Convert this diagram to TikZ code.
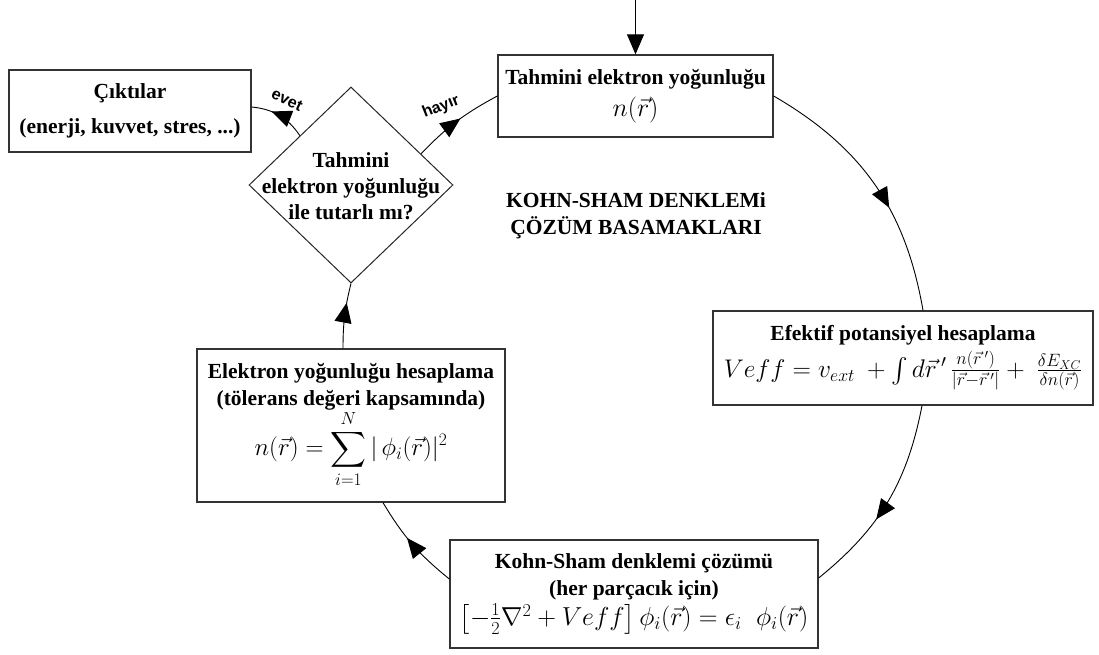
\documentclass[tikz,border=0pt]{standalone}
\usepackage{fix-cm}
\usepackage{amsmath}
\usepackage{fontspec}
\setmainfont{Liberation Serif}
\setsansfont{Liberation Sans}
\usetikzlibrary{shapes.geometric,arrows.meta,decorations.markings}
\tikzset{
  tri/.tip={Triangle[length=20pt,width=17pt]},
  box/.style={draw=black!80, line width=1.3pt, rectangle, inner sep=0pt, align=center,
    font=\fontsize{21.5}{27}\selectfont\bfseries},
  link/.style={draw=black, line width=0.9pt},
  midarrow/.style={postaction={decorate},
    decoration={markings, mark=at position #1 with {\arrow{tri}}}},
  lbl/.style={font=\sffamily\bfseries\fontsize{16}{16}\selectfont},
  plain/.style={align=center, font=\fontsize{21.5}{27}\selectfont\bfseries},
}
\begin{document}
\begin{tikzpicture}[x=1pt,y=-1pt]
\useasboundingbox (0,0) rectangle (1099,655);

\node[box, minimum width=275pt, minimum height=82pt] (tbox) at (635.5,96)
  {Tahmini elektron yoğunluğu\\[5pt] \fontsize{26}{27}\selectfont$n(\vec{r})$};
\node[box, minimum width=242pt, minimum height=82pt] (out) at (130,111)
  {Çıktılar\\[8pt](enerji, kuvvet, stres, ...)};
\node[diamond, draw=black!85, line width=1pt, minimum width=204pt, minimum height=196pt,
  inner sep=0pt] (dia) at (351,185) {};
\node[align=center, font=\fontsize{21.5}{26}\selectfont\bfseries] (diatxt) at (351,186)
  {Tahmini\\elektron yoğunluğu\\ile tutarlı mı?};
\node[box, minimum width=380pt, minimum height=94pt] (rbox) at (903,358)
  {Efektif potansiyel hesaplama\\[5pt]
   \fontsize{25.5}{27}\selectfont$Veff = v_{ext}\ +\int d\vec{r}\,'\,\frac{n(\vec{r}\,')}{|\vec{r}-\vec{r}\,'|}+\ \frac{\delta E_{XC}}{\delta n(\vec{r})}$};
\node[box, minimum width=308pt, minimum height=153pt] (lbox) at (351,425.5)
  {Elektron yoğunluğu hesaplama\\(tölerans değeri kapsamında)\\[-1pt]
   \fontsize{25}{27}\selectfont$\displaystyle n(\vec{r}) = \sum_{i=1}^{N} |\,\phi_i(\vec{r})|^2$};
\node[box, minimum width=368pt, minimum height=108pt] (bbox) at (634,594)
  {Kohn-Sham denklemi çözümü\\(her parçacık için)\\[3pt]
   \fontsize{26}{27}\selectfont$\left[-\frac{1}{2}\nabla^2+Veff\right]\phi_i(\vec{r}) = \epsilon_i\;\;\phi_i(\vec{r})$};
\node[plain] (title) at (636,216) {KOHN-SHAM DENKLEMi\\ÇÖZÜM BASAMAKLARI};

\coordinate (entry) at (tbox.north |- 0,0);
\draw[link, -{tri}] (entry) -- (tbox.north);
\draw[link, midarrow=0.6] (tbox.east) to[bend left=25] ([xshift=20pt]rbox.north);
\draw[link, midarrow=0.6] ([xshift=19pt]rbox.south) to[bend left=20] ([yshift=16pt]bbox.east);
\draw[link, midarrow=0.58] ([yshift=15pt]bbox.west) to[bend left=10] ([xshift=32pt]lbox.south);
\draw[link, midarrow=0.7] ([xshift=-8pt]lbox.north) to[bend left=7] (dia.south);
\draw[link, midarrow=0.55] (dia.24) to[bend left=9] (tbox.west);
\draw[link, midarrow=0.65] (dia.136) to[bend right=25] ([yshift=4pt]out.east);

\node[lbl, rotate=-25] (evet) at (287,100) {evet};
\node[lbl, rotate=22] (hayir) at (441,107) {hayır};
\end{tikzpicture}
\end{document}
